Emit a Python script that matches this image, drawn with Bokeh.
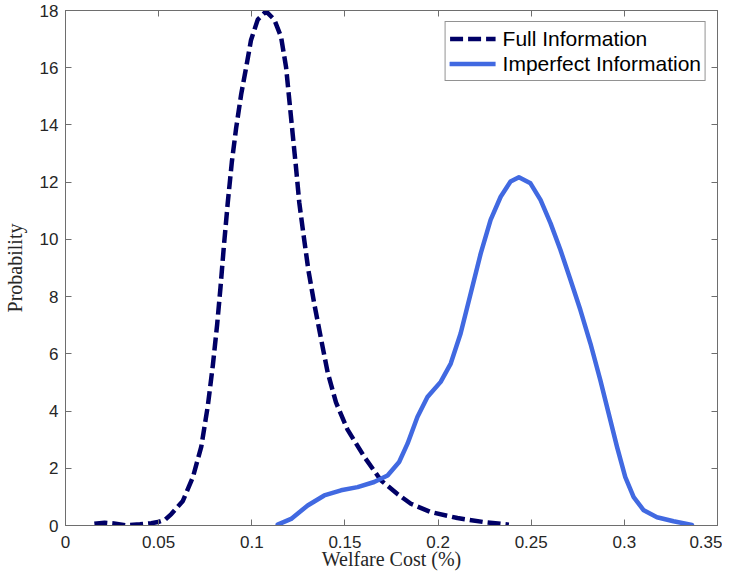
from bokeh.plotting import figure
from bokeh.models import Range1d, FixedTicker, LinearAxis, Legend, LegendItem
from bokeh.embed import file_html
from bokeh.resources import INLINE

# Data
full_x = [0.0155, 0.021, 0.026, 0.032, 0.040, 0.046, 0.0496, 0.0535, 0.0568, 0.063,
          0.0684, 0.0729, 0.0764, 0.0791, 0.0814, 0.0832, 0.085, 0.0871, 0.0893, 0.0916,
          0.0943, 0.097, 0.0996, 0.1032, 0.1077, 0.1121, 0.1157, 0.1184, 0.1202, 0.122,
          0.1238, 0.1255, 0.1279, 0.1304, 0.1336, 0.1371, 0.1407, 0.1452, 0.1514, 0.1604,
          0.1693, 0.1782, 0.1854, 0.1961, 0.2104, 0.2246, 0.238]
full_y = [0.06, 0.10, 0.07, 0.01, 0.04, 0.08, 0.12, 0.20, 0.40, 0.86,
          1.69, 2.76, 4.18, 5.60, 7.02, 8.32, 9.75, 11.28, 12.71, 13.89,
          15.07, 16.02, 16.97, 17.68, 17.97, 17.68, 17.08, 16.02, 14.84, 13.65,
          12.47, 11.28, 10.10, 8.92, 7.73, 6.55, 5.36, 4.30, 3.35, 2.40,
          1.58, 1.10, 0.76, 0.47, 0.26, 0.12, 0.03]

imp_x = [0.1139, 0.1211, 0.130, 0.1389, 0.1479, 0.1568, 0.1657, 0.1729, 0.1791, 0.1836,
         0.1889, 0.1943, 0.2014, 0.2068, 0.2121, 0.2175, 0.2229, 0.2282, 0.2336, 0.2389,
         0.2434, 0.2496, 0.255, 0.2604, 0.2657, 0.2711, 0.2764, 0.2818, 0.2871, 0.2916,
         0.2961, 0.3005, 0.305, 0.3104, 0.3175, 0.3264, 0.3363]
imp_y = [0.03, 0.23, 0.70, 1.05, 1.23, 1.34, 1.52, 1.75, 2.22, 2.86,
         3.79, 4.49, 5.02, 5.66, 6.71, 8.11, 9.51, 10.68, 11.49, 12.02,
         12.17, 11.96, 11.38, 10.56, 9.63, 8.58, 7.53, 6.36, 5.08, 3.91,
         2.74, 1.69, 0.99, 0.53, 0.29, 0.15, 0.02]

x_ticks = [0, 0.05, 0.1, 0.15, 0.2, 0.25, 0.3, 0.35]
x_tick_labels = ["0", "0.05", "0.1", "0.15", "0.2", "0.25", "0.3", "0.35"]
y_ticks = [0, 2, 4, 6, 8, 10, 12, 14, 16, 18]
y_tick_labels = ["0", "2", "4", "6", "8", "10", "12", "14", "16", "18"]

series_names = ["Full Information", "Imperfect Information"]
x_label = "Welfare Cost (%)"
y_label = "Probability"

AX = "#262626"
FRAME = "#6e6e6e"

p = figure(width=722, height=572, output_backend="svg", toolbar_location=None,
           x_range=Range1d(0, 0.35), y_range=Range1d(0, 18),
           min_border_left=10, min_border_right=5, min_border_top=10, min_border_bottom=0)
p.grid.visible = False
p.outline_line_color = FRAME
p.outline_line_width = 1
p.background_fill_color = "white"
p.border_fill_color = "white"

for ax in p.xaxis:
    ax.ticker = FixedTicker(ticks=x_ticks)
    ax.major_label_overrides = {t: l for t, l in zip(x_ticks, x_tick_labels)}
    ax.axis_label = x_label
for ax in p.yaxis:
    ax.ticker = FixedTicker(ticks=y_ticks)
    ax.major_label_overrides = {t: l for t, l in zip(y_ticks, y_tick_labels)}
    ax.axis_label = y_label

for ax in list(p.xaxis) + list(p.yaxis):
    ax.axis_line_color = FRAME
    ax.major_tick_line_color = FRAME
    ax.major_tick_in = 6
    ax.major_tick_out = 0
    ax.minor_tick_line_color = None
    ax.major_label_text_font = "Liberation Sans"
    ax.major_label_text_font_size = "17px"
    ax.major_label_text_color = AX
    ax.axis_label_text_font = "Liberation Serif"
    ax.axis_label_text_font_size = "20px"
    ax.axis_label_text_font_style = "normal"
    ax.axis_label_text_color = AX
p.xaxis.major_label_standoff = 10
p.xaxis.axis_label_standoff = -3
p.yaxis.major_label_standoff = 7
p.yaxis.axis_label_standoff = 11

# mirrored ticks on top and right (box axes)
top = LinearAxis(ticker=FixedTicker(ticks=x_ticks), major_label_text_font_size="0px",
                 major_label_standoff=0, axis_line_color=FRAME, major_tick_line_color=FRAME,
                 major_tick_in=6, major_tick_out=0, minor_tick_line_color=None)
right = LinearAxis(ticker=FixedTicker(ticks=y_ticks), major_label_text_font_size="0px",
                   major_label_standoff=0, axis_line_color=FRAME, major_tick_line_color=FRAME,
                   major_tick_in=6, major_tick_out=0, minor_tick_line_color=None)
p.add_layout(top, "above")
p.add_layout(right, "right")

r_full = p.line(full_x, full_y, line_color="#000066", line_width=4.5, line_dash="13 5",
                line_join="round")
r_imp = p.line(imp_x, imp_y, line_color="#4169E1", line_width=4.5, line_join="round",
               line_cap="round")

legend = Legend(items=[LegendItem(label=series_names[0], renderers=[r_full]),
                       LegendItem(label=series_names[1], renderers=[r_imp])],
                location="top_right")
legend.label_text_font = "Liberation Sans"
legend.label_text_font_size = "21px"
legend.label_text_color = "black"
legend.border_line_color = "#262626"
legend.border_line_width = 1
legend.padding = 4
legend.spacing = 0
legend.margin = 11
legend.glyph_width = 46
legend.glyph_height = 25
legend.label_height = 25
legend.label_standoff = 7
legend.background_fill_alpha = 1
p.add_layout(legend)

open("out.html", "w").write(file_html(p, INLINE))
